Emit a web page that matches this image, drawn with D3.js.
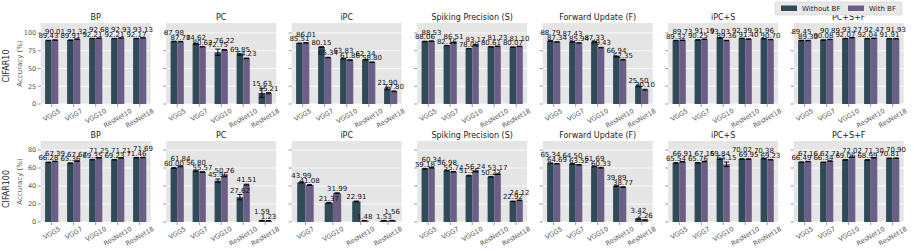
<!DOCTYPE html>
<html>
<head>
<meta charset="utf-8">
<script src="https://cdn.jsdelivr.net/npm/d3@7"></script>
<style>
  body { margin: 0; background: #fff; }
  svg { display: block; }
  text { font-family: "DejaVu Sans", sans-serif; }
</style>
</head>
<body>
<svg id="chart" width="914" height="251"></svg>
<script>
// categories
const models = ["VGG5", "VGG7", "VGG10", "ResNet10", "ResNet18"];
const c100IpcModels = ["VGG7", "VGG10", "ResNet10", "ResNet18"];
const methods = ["BP", "PC", "iPC", "Spiking Precision (S)", "Forward Update (F)", "iPC+S", "PC+S+F"];
const seriesNames = ["Without BF", "With BF"];
const seriesColors = ["#2f4a58", "#6c5f87"];

// CIFAR10, one row per method
const c10Without = [
  [89.43, 89.91, 92.21, 92.21, 92.17],
  [87.98, 84.62, 72.75, 69.85, 15.63],
  [85.51, 80.15, 63.83, 62.34, 21.90],
  [88.06, 82.16, 78.00, 80.61, 80.07],
  [88.79, 87.43, 87.33, 66.94, 25.50],
  [89.32, 90.25, 93.03, 92.39, 91.96],
  [89.45, 90.08, 92.07, 92.04, 91.91]
];
const c10With = [
  [90.01, 91.32, 92.68, 92.93, 93.13],
  [87.77, 80.62, 76.22, 64.23, 15.21],
  [86.01, 65.34, 61.86, 58.80, 17.80],
  [88.53, 86.51, 83.17, 81.23, 81.10],
  [87.34, 85.94, 79.43, 62.35, 20.10],
  [89.73, 91.19, 89.36, 91.40, 90.70],
  [89.30, 90.89, 93.27, 92.47, 91.93]
];
const c10WithoutErr = [
  [0.3, 0.3, 0.2, 0.2, 0.2],
  [0.5, 0.6, 4.5, 0.8, 6.5],
  [0.3, 0.5, 0.5, 0.5, 1.8],
  [0.3, 0.3, 0.3, 0.3, 0.3],
  [0.3, 0.3, 0.4, 0.5, 1.2],
  [0.3, 0.3, 0.3, 0.3, 0.3],
  [0.3, 0.3, 0.3, 0.3, 0.3]
];
const c10WithErr = [
  [0.3, 0.3, 0.2, 0.2, 0.2],
  [0.4, 0.4, 0.5, 0.5, 0.8],
  [0.3, 0.4, 0.4, 0.4, 0.6],
  [0.3, 0.3, 0.3, 0.3, 0.3],
  [0.3, 0.3, 0.4, 0.5, 0.6],
  [0.3, 0.3, 0.3, 0.3, 0.3],
  [0.3, 0.3, 0.3, 0.3, 0.3]
];

// CIFAR100 (iPC has no VGG5)
const c100Without = [
  [66.28, 65.36, 69.35, 69.23, 71.46],
  [60.00, 56.80, 45.96, 27.62, 1.59],
  [43.99, 21.37, 22.91, 1.53],
  [59.18, 56.98, 51.56, 50.23, 22.92],
  [65.34, 64.50, 61.69, 39.89, 3.42],
  [65.54, 65.76, 69.84, 70.02, 70.38],
  [66.49, 66.34, 69.06, 68.99, 70.81]
];
const c100With = [
  [67.39, 67.67, 71.25, 71.21, 71.69],
  [61.84, 55.57, 50.76, 41.51, 1.23],
  [41.08, 31.99, 1.48, 1.56],
  [60.34, 55.74, 56.24, 53.17, 24.12],
  [64.69, 63.52, 60.33, 38.77, 2.26],
  [66.91, 67.15, 64.15, 69.95, 69.23],
  [67.16, 67.71, 72.02, 71.30, 70.90]
];
const c100WithoutErr = [
  [0.3, 0.3, 0.3, 0.3, 0.3],
  [0.5, 0.6, 1.8, 3.0, 0.2],
  [0.5, 0.5, 0.4, 0.2],
  [0.4, 0.4, 0.4, 0.4, 0.3],
  [0.3, 0.3, 0.4, 0.5, 0.2],
  [0.3, 0.3, 0.4, 0.3, 0.3],
  [0.3, 0.3, 0.3, 0.3, 0.3]
];
const c100WithErr = [
  [0.3, 0.3, 0.3, 0.3, 0.3],
  [0.5, 0.4, 0.6, 0.5, 0.2],
  [0.5, 0.5, 0.2, 0.2],
  [0.4, 0.4, 0.4, 0.4, 0.3],
  [0.3, 0.3, 0.4, 0.5, 0.2],
  [0.3, 0.3, 2.5, 0.3, 0.3],
  [0.3, 0.3, 0.3, 0.3, 0.3]
];

const c10Ticks = [0, 25, 50, 75, 100];
const c100Ticks = [0, 20, 40, 60, 80];

const rows = [
  { name: "CIFAR10", top: 23, bottom: 104, max: 114, ticks: c10Ticks, labelY: 66,
    cats: methods.map(() => models), vals: [c10Without, c10With], errs: [c10WithoutErr, c10WithErr] },
  { name: "CIFAR100", top: 141, bottom: 222, max: 90, ticks: c100Ticks, labelY: 189,
    cats: methods.map((m, i) => i === 2 ? c100IpcModels : models), vals: [c100Without, c100With], errs: [c100WithoutErr, c100WithErr] }
];

const svg = d3.select("#chart");
const tickColor = "#555";

// panel positions
let panelScale = d3.scaleBand()
  .domain(methods)
  .range([40.7, 903.7])
  .paddingInner(0.1235)
  .paddingOuter(0);

rows.forEach(row => {
  let yScale = d3.scaleLinear().domain([0, row.max]).range([row.bottom, row.top]);

  // row labels
  svg.append("text")
    .attr("transform", "translate(9," + row.labelY + ") rotate(-90)")
    .style("text-anchor", "middle")
    .style("font-size", "8px")
    .style("fill", "#222")
    .text(row.name);
  svg.append("text")
    .attr("transform", "translate(22," + ((row.top + row.bottom) / 2) + ") rotate(-90)")
    .style("text-anchor", "middle")
    .style("font-size", "7px")
    .style("fill", "#555")
    .text("Accuracy (%)");

  methods.forEach((method, mi) => {
    let cats = row.cats[mi];
    let x0 = panelScale(method);
    let pw = panelScale.bandwidth();
    let g = svg.append("g");

    let xScale = d3.scaleBand().domain(cats).range([x0, x0 + pw]).padding(0);
    let step = xScale.step();
    let bw = step * 0.3;

    // background + grid
    g.append("rect")
      .attr("x", x0).attr("y", row.top)
      .attr("width", pw).attr("height", row.bottom - row.top)
      .attr("fill", "#e5e5e5");
    row.ticks.forEach(t => {
      g.append("line")
        .attr("x1", x0).attr("x2", x0 + pw)
        .attr("y1", yScale(t)).attr("y2", yScale(t))
        .attr("stroke", "#fff").attr("stroke-width", 0.8);
      g.append("line")
        .attr("x1", x0 - 3).attr("x2", x0)
        .attr("y1", yScale(t)).attr("y2", yScale(t))
        .attr("stroke", tickColor).attr("stroke-width", 0.6);
      if (mi === 0) {
        g.append("text")
          .attr("x", x0 - 4.5).attr("y", yScale(t))
          .attr("dy", "0.35em")
          .style("text-anchor", "end")
          .style("font-size", "6.5px")
          .style("fill", tickColor)
          .text(t);
      }
    });

    // title
    g.append("text")
      .attr("x", x0 + pw / 2).attr("y", row.top - 3.5)
      .style("text-anchor", "middle")
      .style("font-size", "8px")
      .style("fill", "#222")
      .text(method);

    // bars, error bars, value labels
    cats.forEach((cat, ci) => {
      let cx = xScale(cat) + step / 2;
      let labelPos = [];
      [0, 1].forEach(si => {
        let v = row.vals[si][mi][ci];
        let e = row.errs[si][mi][ci];
        let bx = si === 0 ? cx - bw : cx;
        g.append("rect")
          .attr("x", bx).attr("y", yScale(v))
          .attr("width", bw).attr("height", yScale(0) - yScale(v))
          .attr("fill", seriesColors[si]);
        let ex = bx + bw / 2;
        g.append("line")
          .attr("x1", ex).attr("x2", ex)
          .attr("y1", yScale(v - e)).attr("y2", yScale(v + e))
          .attr("stroke", "#000").attr("stroke-width", 0.9);
        [v - e, v + e].forEach(c => {
          g.append("line")
            .attr("x1", ex - 2.6).attr("x2", ex + 2.6)
            .attr("y1", yScale(c)).attr("y2", yScale(c))
            .attr("stroke", "#000").attr("stroke-width", 0.9);
        });
        labelPos.push({ x: ex, y: yScale(v + e) - 1.8, v: v });
      });
      // stagger labels when close together
      let hi = labelPos[0].v >= labelPos[1].v ? 0 : 1;
      let lo = 1 - hi;
      labelPos[hi].y = Math.min(labelPos[hi].y, labelPos[lo].y - 4.5);
      labelPos.forEach(p => {
        g.append("text")
          .attr("x", p.x).attr("y", p.y)
          .style("text-anchor", "middle")
          .style("font-size", "7px")
          .style("fill", "#111")
          .text(p.v.toFixed(2));
      });

      // x tick + rotated label
      g.append("line")
        .attr("x1", cx).attr("x2", cx)
        .attr("y1", row.bottom).attr("y2", row.bottom + 3)
        .attr("stroke", tickColor).attr("stroke-width", 0.6);
      let lbl = g.append("text")
        .style("text-anchor", "middle")
        .style("font-size", "6.5px")
        .style("fill", tickColor)
        .attr("dy", "0.35em")
        .text(cat);
      let len = lbl.node().getComputedTextLength();
      let a = 30 * Math.PI / 180;
      let halfH = (len * Math.sin(a) + 6.5 * Math.cos(a)) / 2;
      lbl.attr("transform", "translate(" + cx + "," + (row.bottom + 3.5 + halfH) + ") rotate(-30)");
    });
  });
});

// legend
let legend = svg.append("g").attr("transform", "translate(775,2)");
legend.append("rect")
  .attr("width", 127).attr("height", 13)
  .attr("fill", "#e8e8e8").attr("stroke", "#d0d0d0").attr("stroke-width", 0.6).attr("rx", 1.5);
let legendX = [6, 73];
seriesNames.forEach((name, i) => {
  legend.append("rect")
    .attr("x", legendX[i]).attr("y", 3.5)
    .attr("width", 16).attr("height", 5.5)
    .attr("fill", seriesColors[i]);
  legend.append("text")
    .attr("x", legendX[i] + 21).attr("y", 9.2)
    .style("font-size", "7px")
    .style("fill", "#222")
    .text(name);
});
</script>
</body>
</html>
